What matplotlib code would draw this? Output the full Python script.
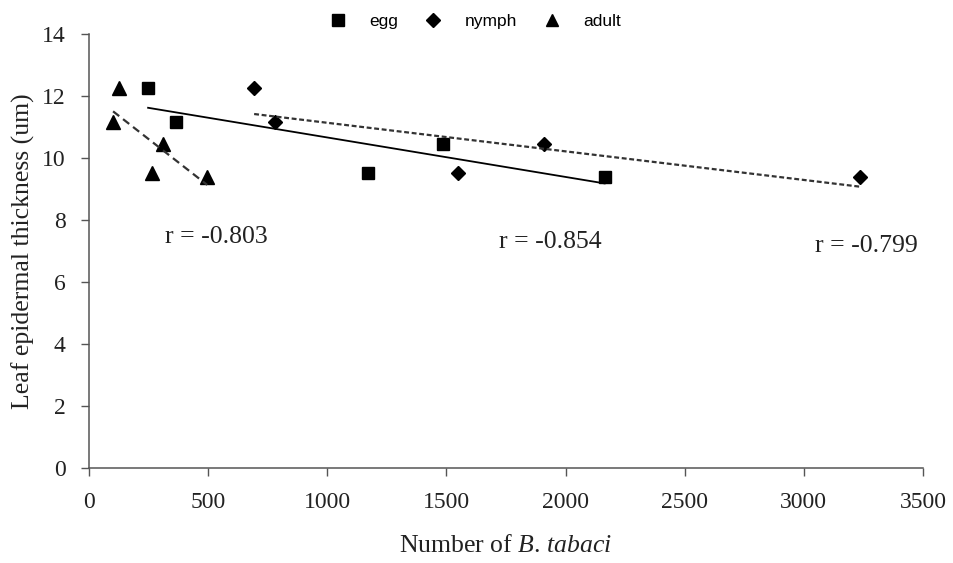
import numpy as np
import matplotlib
matplotlib.use("Agg")
import matplotlib.pyplot as plt
from matplotlib.lines import Line2D

plt.rcParams['font.family'] = ['Liberation Serif', 'DejaVu Serif']
plt.rcParams['mathtext.fontset'] = 'custom'
plt.rcParams['mathtext.rm'] = 'Liberation Serif'
plt.rcParams['mathtext.it'] = 'Liberation Serif:italic'

# leaf epidermal thickness, same five leaves for every stage
thickness = [12.25, 11.15, 9.5, 10.45, 9.38]
egg_x = [248, 365, 1172, 1487, 2164]
nymph_x = [693, 782, 1550, 1911, 3235]
adult_x = [126, 101, 265, 311, 496]

r_labels = ["r = -0.803", "r = -0.854", "r = -0.799"]
r_pos = [(319, 7.45), (1720, 7.3), (3047, 7.17)]

fig = plt.figure(figsize=(9.54, 5.63), dpi=100)
ax = fig.add_axes([0.0933, 0.1687, 0.8742, 0.7713])

ax.plot(egg_x, thickness, 's', color='black', ms=9)
ax.plot(nymph_x, thickness, 'D', color='black', ms=7)
ax.plot(adult_x, thickness, '^', color='black', ms=9.5)

def trend(xs, ys, **kw):
    xs = np.array(xs, dtype=float)
    k, b = np.polyfit(xs, ys, 1)
    xx = np.array([xs.min(), xs.max()])
    ax.plot(xx, k * xx + b, **kw)

trend(egg_x, thickness, color='black', lw=1.3)
trend(nymph_x, thickness, color='#333333', lw=1.6, dashes=(2.2, 1.2))
trend(adult_x, thickness, color='#333333', lw=1.6, dashes=(3.5, 2.2))

for lab, (x, y) in zip(r_labels, r_pos):
    ax.text(x, y, lab, fontsize=18.5, va='center', ha='left', color='#222222')

ax.set_xlim(0, 3500)
ax.set_ylim(0, 14)
ax.set_xticks(range(0, 3501, 500))
ax.set_yticks(range(0, 15, 2))
ax.tick_params(labelsize=17, length=6, width=1, color='#555555', labelcolor='#222222')
ax.tick_params(axis='y', pad=11)
ax.tick_params(axis='x', pad=11)
for s in ['top', 'right']:
    ax.spines[s].set_visible(False)
for s in ['left', 'bottom']:
    ax.spines[s].set_color('#555555')
    ax.spines[s].set_linewidth(1.1)

ax.set_xlabel(r'Number of $\mathit{B.}$$\mathit{\,tabaci}$', fontsize=18.5, labelpad=16, color='#222222')
ax.set_ylabel('Leaf epidermal thickness (um)', fontsize=18.5, labelpad=5, color='#222222')

handles = [
    Line2D([], [], ls='none', marker='s', color='black', ms=9),
    Line2D([], [], ls='none', marker='D', color='black', ms=7),
    Line2D([], [], ls='none', marker='^', color='black', ms=9),
]
fig.legend(handles, ['egg', 'nymph', 'adult'], loc='center', bbox_to_anchor=(0.498, 0.962),
           ncol=3, frameon=False, prop={'family': 'Liberation Sans', 'size': 12.5},
           handletextpad=1.3, columnspacing=1.5, handlelength=1.0)

fig.savefig('out.png', dpi=100)
